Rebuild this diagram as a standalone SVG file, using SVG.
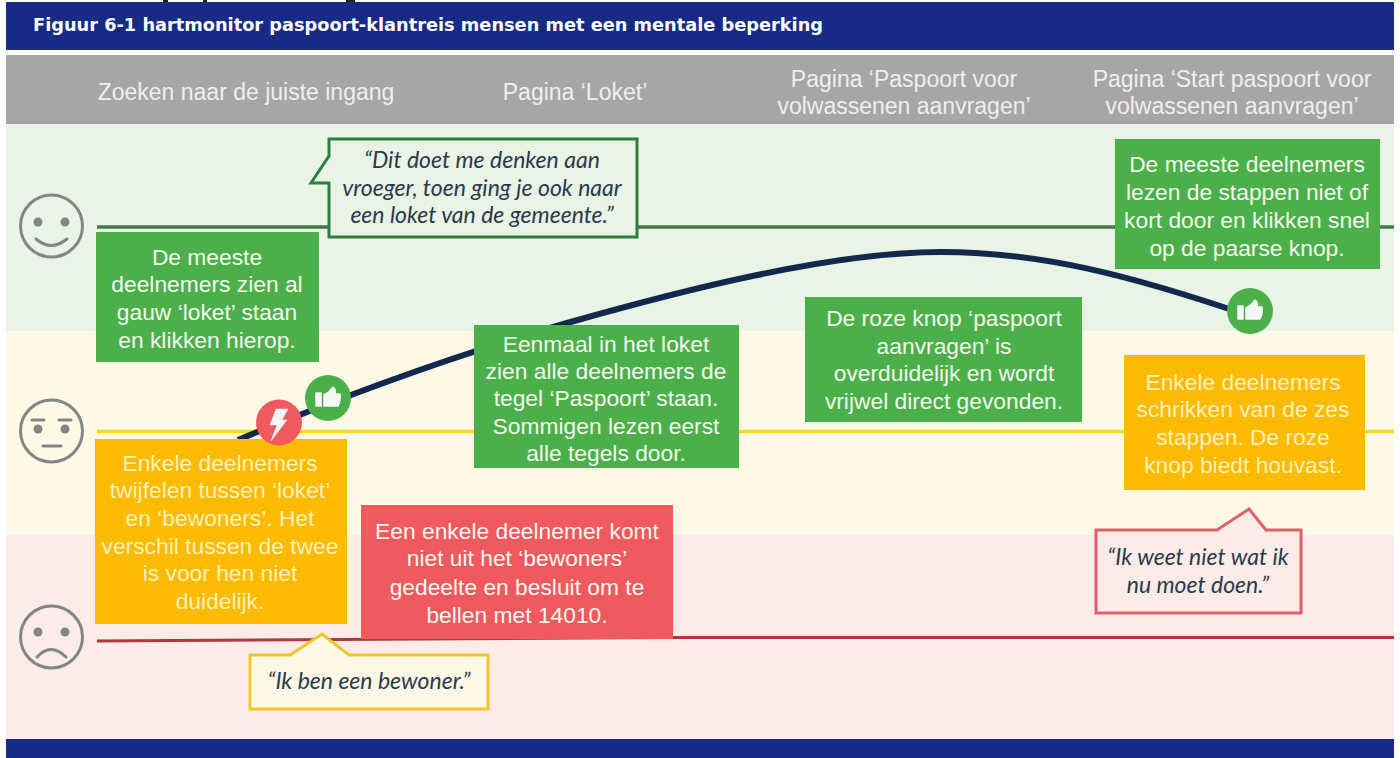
<svg xmlns="http://www.w3.org/2000/svg" width="1400" height="758" viewBox="0 0 1400 758">
<style>
.h{font:23px "Liberation Sans",Arial,sans-serif;fill:#eeeeee;text-anchor:middle}
.b{font:22.800px "Liberation Sans",Arial,sans-serif;fill:#f4f7ee;text-anchor:middle}
.by{fill:#fff0b8}
.q{font:italic 23px Lato,"Open Sans",sans-serif;fill:#2c3a4c;text-anchor:middle}
.face{fill:none;stroke:#858585;stroke-width:3}
.fd{fill:#858585}
.fl{fill:none;stroke:#858585;stroke-width:3;stroke-linecap:round}
.g{fill:#4bb04a}.y{fill:#fdbb00}.r{fill:#f05a5e}
.ic{fill:#f7f7f7;stroke:#f7f7f7;stroke-width:1.500;stroke-linejoin:round}
</style>
<rect width="1400" height="758" fill="#fff"/>
<rect x="163" y="0" width="5" height="2" fill="#222"/><rect x="203" y="0" width="4" height="2" fill="#222"/><rect x="346" y="0" width="9" height="2" fill="#222"/>
<rect x="6" y="2" width="1388" height="48" fill="#172b85"/>
<text x="33" y="31" font-family="'DejaVu Sans',Verdana,sans-serif" font-weight="700" font-size="17" fill="#fff" id="title" textLength="790" lengthAdjust="spacingAndGlyphs">Figuur 6-1 hartmonitor paspoort-klantreis mensen met een mentale beperking</text>
<rect x="6" y="55" width="1388" height="69" fill="#a6a6a6"/>
<rect x="6" y="124" width="1388" height="207" fill="#e9f3e6"/>
<rect x="6" y="331" width="1388" height="204" fill="#fef9e7"/>
<rect x="6" y="535" width="1388" height="205" fill="#fbece8"/>
<rect x="6" y="739" width="1388" height="19" fill="#172b85"/>
<g id="headers">
<text class="h" x="246" y="100">Zoeken naar de juiste ingang</text>
<text class="h" x="575" y="100">Pagina ‘Loket’</text>
<text class="h" x="904" y="87">Pagina ‘Paspoort voor</text>
<text class="h" x="904" y="114">volwassenen aanvragen’</text>
<text class="h" x="1232" y="87">Pagina ‘Start paspoort voor</text>
<text class="h" x="1232" y="114">volwassenen aanvragen’</text>
</g>
<g id="connectors" fill="none">
<path d="M97 227H1394" stroke="#3f7d45" stroke-width="3.500"/>
<path d="M97 431.500H1394" stroke="#f5d91f" stroke-width="3.500"/>
<path d="M97 641L660 637.500H1394" stroke="#b0393f" stroke-width="3"/>
<path d="M238 440C300 414 420 365 567 323C680 291 830 252 941 252C1040 252 1130 275 1250 316" stroke="#12294d" stroke-width="6"/>
</g>
<g id="face-happy"><circle class="face" cx="51.500" cy="226" r="31"/><circle class="fd" cx="38" cy="222" r="4.500"/><circle class="fd" cx="65" cy="222" r="4.500"/><path class="fl" d="M36 239Q51 252 67 239"/></g>
<g id="face-neutral"><circle class="face" cx="51.500" cy="431" r="31"/><circle class="fd" cx="38" cy="429" r="4.500"/><circle class="fd" cx="65" cy="429" r="4.500"/><path class="fl" d="M32 420H44M59 420H71M43 446H61"/></g>
<g id="face-sad"><circle class="face" cx="51.500" cy="637" r="31"/><circle class="fd" cx="38" cy="632" r="4.500"/><circle class="fd" cx="65" cy="632" r="4.500"/><path class="fl" d="M37 657Q51 642 66 657"/></g>
<g id="n-quote-1"><path d="M329 139H637V237H329V183H311L329 156Z" fill="#e9f3e6" stroke="#2f7d3f" stroke-width="3"/>
<text class="q" x="482" y="168">“Dit doet me denken aan</text><text class="q" x="482" y="196">vroeger, toen ging je ook naar</text><text class="q" x="482" y="223">een loket van de gemeente.”</text></g>
<g id="n-green-1"><rect class="g" x="96" y="232" width="223" height="130"/>
<text class="b" x="207" y="265">De meeste</text><text class="b" x="207" y="292">deelnemers zien al</text><text class="b" x="207" y="320">gauw ‘loket’ staan</text><text class="b" x="207" y="348">en klikken hierop.</text></g>
<g id="n-green-2"><rect class="g" x="474" y="325" width="265" height="143"/>
<text class="b" x="606" y="352">Eenmaal in het loket</text><text class="b" x="606" y="379">zien alle deelnemers de</text><text class="b" x="606" y="406">tegel ‘Paspoort’ staan.</text><text class="b" x="606" y="434">Sommigen lezen eerst</text><text class="b" x="606" y="461">alle tegels door.</text></g>
<g id="n-green-3"><rect class="g" x="805" y="297" width="277" height="125"/>
<text class="b" x="944" y="326">De roze knop ‘paspoort</text><text class="b" x="944" y="354">aanvragen’ is</text><text class="b" x="944" y="381">overduidelijk en wordt</text><text class="b" x="944" y="409">vrijwel direct gevonden.</text></g>
<g id="n-green-4"><rect class="g" x="1115" y="139" width="265" height="130"/>
<text class="b" x="1247" y="172">De meeste deelnemers</text><text class="b" x="1247" y="200">lezen de stappen niet of</text><text class="b" x="1247" y="228">kort door en klikken snel</text><text class="b" x="1247" y="256">op de paarse knop.</text></g>
<g id="n-yellow-1"><rect class="y" x="95" y="439" width="252" height="185"/>
<text class="b by" x="220" y="471">Enkele deelnemers</text><text class="b by" x="220" y="498">twijfelen tussen ‘loket’</text><text class="b by" x="220" y="526">en ‘bewoners’. Het</text><text class="b by" x="220" y="554">verschil tussen de twee</text><text class="b by" x="220" y="581">is voor hen niet</text><text class="b by" x="220" y="609">duidelijk.</text></g>
<g id="n-red-1"><rect class="r" x="361" y="505" width="312" height="134"/>
<text class="b" x="517" y="539">Een enkele deelnemer komt</text><text class="b" x="517" y="566">niet uit het ‘bewoners’</text><text class="b" x="517" y="595">gedeelte en besluit om te</text><text class="b" x="517" y="623">bellen met 14010.</text></g>
<g id="n-yellow-2"><rect class="y" x="1124" y="355" width="241" height="135"/>
<text class="b by" x="1243" y="390">Enkele deelnemers</text><text class="b by" x="1243" y="417">schrikken van de zes</text><text class="b by" x="1243" y="445">stappen. De roze</text><text class="b by" x="1243" y="473">knop biedt houvast.</text></g>
<g id="n-quote-2"><path d="M250 655H290L322 634L349 655H488V709H250Z" fill="#fef9e7" stroke="#f1c62a" stroke-width="3"/>
<text class="q" x="369" y="689">“Ik ben een bewoner.”</text></g>
<g id="n-quote-3"><path d="M1096 530H1217L1249 509L1266 530H1301V613H1096Z" fill="#fbece8" stroke="#e0606a" stroke-width="3"/>
<text class="q" x="1198" y="565">“Ik weet niet wat ik</text><text class="q" x="1198" y="593">nu moet doen.”</text></g>
<g id="icon-bolt"><circle class="r" cx="279" cy="422.500" r="23"/><path class="ic" style="stroke-width:.5" d="M276 409H288L282 420H287L271 441L277 425H270Z"/></g>
<g id="icon-thumb-1"><circle class="g" cx="328" cy="398" r="23"/><path class="ic" d="M316 393H321V406H316ZM324 395L329 392L333 387Q336 389 335 394H340Q341 400 338 406H324Z"/></g>
<g id="icon-thumb-2"><circle class="g" cx="1250" cy="311" r="23"/><path class="ic" d="M1238 306H1243V319H1238ZM1246 308L1251 305L1255 300Q1258 302 1257 307H1262Q1263 313 1260 319H1246Z"/></g>
</svg>
